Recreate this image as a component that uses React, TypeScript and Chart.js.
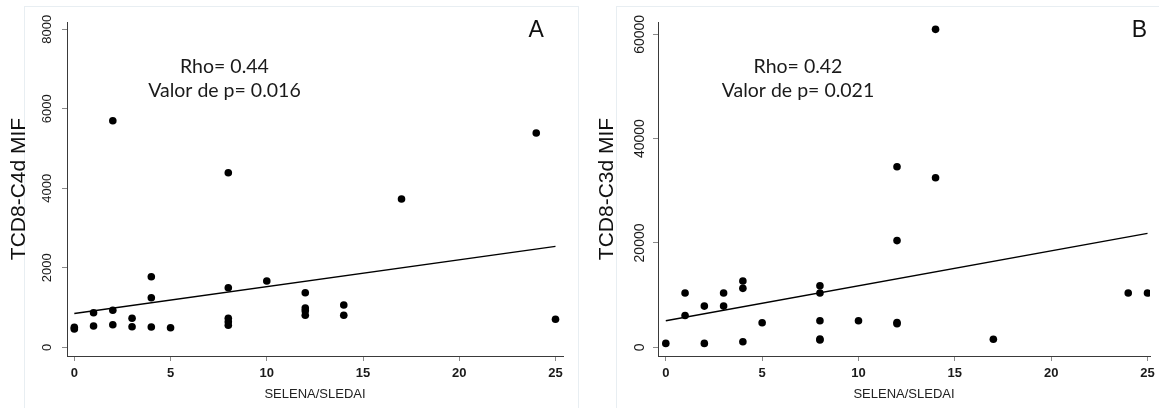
import React, { useEffect, useRef } from "react";
import { Chart, registerables } from "chart.js";

Chart.register(...registerables);

// ---------- Panel A: TCD8-C4d MIF vs SELENA/SLEDAI ----------
const sledaiA = [0, 0, 1, 1, 2, 2, 2, 3, 3, 4, 4, 4, 5, 8, 8, 8, 8, 8, 10, 12, 12, 12, 12, 14, 14, 17, 24, 25];
const c4dMif = [500, 460, 870, 536, 5700, 931, 569, 730, 518, 1776, 1248, 511, 493, 4392, 1499, 730, 644, 553, 1668, 1374, 989, 921, 805, 1064, 805, 3731, 5391, 704];
const fitXA = [0, 25];
const fitYA = [850, 2540];
const yTicksA = [0, 2000, 4000, 6000, 8000];
const yTitleA = "TCD8-C4d MIF";
const rhoA = "Rho= 0.44";
const pValA = "Valor de p= 0.016";
const letterA = "A";

// ---------- Panel B: TCD8-C3d MIF vs SELENA/SLEDAI ----------
const sledaiB = [0, 1, 1, 2, 2, 3, 3, 4, 4, 4, 5, 8, 8, 8, 8, 8, 10, 12, 12, 12, 12, 14, 14, 17, 24, 25];
const c3dMif = [750, 10400, 6100, 7900, 750, 10400, 7900, 12700, 11300, 1050, 4700, 11800, 10400, 5100, 1600, 1400, 5100, 34600, 20450, 4750, 4500, 60950, 32500, 1550, 10400, 10400];
const fitXB = [0, 25];
const fitYB = [5100, 21850];
const yTicksB = [0, 20000, 40000, 60000];
const yTitleB = "TCD8-C3d MIF";
const rhoB = "Rho= 0.42";
const pValB = "Valor de p= 0.021";
const letterB = "B";

// ---------- shared ----------
const xTicks = [0, 5, 10, 15, 20, 25];
const xTitle = "SELENA/SLEDAI";

const SANS = '"Liberation Sans", Arial, sans-serif';

type PanelSpec = {
  left: number;
  width: number;
  xs: number[];
  ys: number[];
  fitX: number[];
  fitY: number[];
  yTicks: number[];
  yTitle: string;
  rho: string;
  pVal: string;
  letter: string;
  yAxisWidth: number;
  padRight: number;
  xMin: number;
  xMax: number;
  yMin: number;
  yMax: number;
  yTickFont: number;
  yTickPad: number;
  yTitlePad: number;
  annotX: number;
  annotY: [number, number];
  letterX: number;
  letterY: number;
};

const panels: PanelSpec[] = [
  {
    left: 0, width: 580,
    xs: sledaiA, ys: c4dMif, fitX: fitXA, fitY: fitYA, yTicks: yTicksA, yTitle: yTitleA,
    rho: rhoA, pVal: pValA, letter: letterA,
    yAxisWidth: 67, padRight: 17,
    xMin: -0.38, xMax: 25.39, yMin: -219, yMax: 8184,
    yTickFont: 13, yTickPad: 0, yTitlePad: 6.4,
    annotX: 7.8, annotY: [6900, 6304],
    letterX: 24, letterY: 7814,
  },
  {
    left: 580, width: 579,
    xs: sledaiB, ys: c3dMif, fitX: fitXB, fitY: fitYB, yTicks: yTicksB, yTitle: yTitleB,
    rho: rhoB, pVal: pValB, letter: letterB,
    yAxisWidth: 78, padRight: 9,
    xMin: -0.405, xMax: 25.13, yMin: -1668, yMax: 62360,
    yTickFont: 14, yTickPad: -7, yTitlePad: 14.4,
    annotX: 6.86, annotY: [52525, 48078],
    letterX: 24.58, letterY: 59540,
  },
];

const textPlugin = {
  id: "panelText",
  afterDraw(chart: any, _args: any, opts: any) {
    const { ctx } = chart;
    const x = chart.scales.x;
    const y = chart.scales.y;
    ctx.save();
    ctx.fillStyle = "#1a1a1a";
    ctx.textAlign = "center";
    ctx.textBaseline = "alphabetic";
    ctx.font = '19.5px Lato, "Open Sans", sans-serif';
    const ax = x.getPixelForValue(opts.annotX);
    ctx.fillText(opts.rho, ax, y.getPixelForValue(opts.annotY[0]));
    ctx.fillText(opts.pVal, ax, y.getPixelForValue(opts.annotY[1]));
    ctx.font = `23px ${SANS}`;
    ctx.fillStyle = "#111";
    ctx.fillText(opts.letter, x.getPixelForValue(opts.letterX), y.getPixelForValue(opts.letterY));
    ctx.restore();
  },
};

function Panel({ spec }: { spec: PanelSpec }) {
  const ref = useRef<HTMLCanvasElement | null>(null);
  useEffect(() => {
    if (!ref.current) return;
    const tickGrid = { drawOnChartArea: false, drawTicks: true, tickLength: 5, color: "#8a8a8a", lineWidth: 1 };
    const border = { display: true, color: "#3a3a3a", width: 1 };
    const chart = new Chart(ref.current, {
      type: "scatter",
      data: {
        datasets: [
          {
            data: spec.xs.map((v, i) => ({ x: v, y: spec.ys[i] })),
            pointRadius: 3.8,
            pointHoverRadius: 3.8,
            backgroundColor: "#000",
            borderWidth: 0,
            order: 1,
          },
          {
            data: spec.fitX.map((v, i) => ({ x: v, y: spec.fitY[i] })),
            showLine: true,
            pointRadius: 0,
            borderColor: "#000",
            borderWidth: 1.4,
            order: 2,
          },
        ],
      } as any,
      options: {
        animation: false,
        responsive: false,
        events: [],
        layout: { padding: { top: 22, right: spec.padRight, bottom: 0, left: 0 } },
        plugins: {
          legend: { display: false },
          tooltip: { enabled: false },
          panelText: {
            annotX: spec.annotX, annotY: spec.annotY, rho: spec.rho, pVal: spec.pVal,
            letter: spec.letter, letterX: spec.letterX, letterY: spec.letterY,
          },
        } as any,
        scales: {
          x: {
            type: "linear",
            min: spec.xMin,
            max: spec.xMax,
            afterBuildTicks: (s: any) => { s.ticks = xTicks.map((v) => ({ value: v })); },
            afterFit: (s: any) => { s.height = 52; s.paddingLeft = 0; s.paddingRight = 0; },
            ticks: {
              autoSkip: false, maxRotation: 0, minRotation: 0, padding: 4.5, color: "#1a1a1a",
              font: { family: SANS, size: 13, weight: "bold" },
              callback: (v: any) => String(v),
            },
            grid: tickGrid,
            border,
            title: {
              display: true, text: xTitle, color: "#222",
              font: { family: SANS, size: 13 }, padding: { top: 0, bottom: 6 },
            },
          },
          y: {
            type: "linear",
            min: spec.yMin,
            max: spec.yMax,
            afterBuildTicks: (s: any) => { s.ticks = spec.yTicks.map((v) => ({ value: v })); },
            afterFit: (s: any) => { s.width = spec.yAxisWidth; s.paddingTop = 0; s.paddingBottom = 0; },
            ticks: {
              autoSkip: false, minRotation: 90, maxRotation: 90, crossAlign: "center",
              padding: spec.yTickPad, color: "#1a1a1a",
              font: { family: SANS, size: spec.yTickFont },
              callback: (v: any) => String(v),
            },
            grid: tickGrid,
            border,
            title: {
              display: true, text: spec.yTitle, color: "#111",
              font: { family: SANS, size: 21 }, padding: { top: spec.yTitlePad, bottom: 0 },
            },
          },
        },
      } as any,
      plugins: [textPlugin as any],
    });
    return () => chart.destroy();
  }, [spec]);

  return (
    <canvas
      ref={ref}
      width={spec.width}
      height={408}
      style={{ position: "absolute", left: spec.left, top: 0, width: spec.width, height: 408, display: "block" }}
    />
  );
}

export default function App() {
  return (
    <div
      style={{
        position: "absolute", left: 0, top: 0, width: 1159, height: 408,
        overflow: "hidden", background: "#fff",
      }}
    >
      <div style={{ position: "absolute", left: 24, top: 6, width: 553, height: 430, border: "1px solid #e8eef2" }} />
      <div style={{ position: "absolute", left: 616, top: 6, width: 600, height: 430, border: "1px solid #e8eef2" }} />
      {panels.map((p) => (
        <Panel key={p.letter} spec={p} />
      ))}
    </div>
  );
}
